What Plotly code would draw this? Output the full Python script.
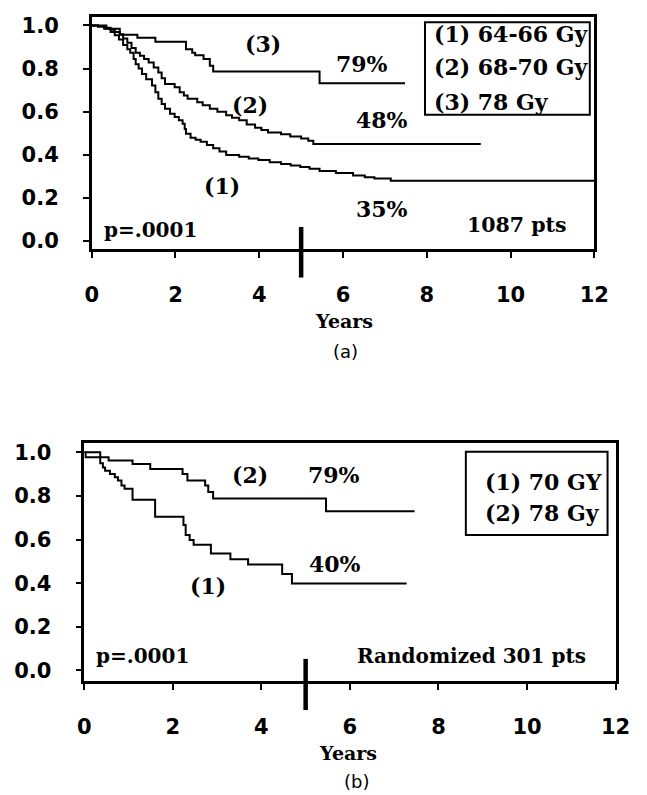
import plotly.graph_objects as go

# ---- Panel (a): all patients, three dose groups ----
a1_t = [0, 0.15, 0.3, 0.45, 0.55, 0.65, 0.75, 0.85, 0.92, 1.0, 1.05, 1.12, 1.2, 1.3, 1.44, 1.52,
        1.59, 1.67, 1.75, 1.87, 1.98, 2.08, 2.17, 2.22, 2.25, 2.36, 2.48, 2.6, 2.75, 2.9, 3.05,
        3.21, 3.52, 3.75, 3.98, 4.25, 4.52, 4.75, 4.98, 5.2, 5.44, 5.83, 6.24, 6.52, 6.75, 7.14]
a1_s = [1.0, 0.995, 0.985, 0.97, 0.955, 0.935, 0.91, 0.89, 0.874, 0.845, 0.82, 0.8, 0.775, 0.75,
        0.721, 0.69, 0.66, 0.635, 0.613, 0.59, 0.575, 0.56, 0.544, 0.52, 0.498, 0.479, 0.47,
        0.46, 0.445, 0.43, 0.415, 0.399, 0.391, 0.383, 0.376, 0.365, 0.357, 0.35, 0.343, 0.335,
        0.325, 0.315, 0.304, 0.296, 0.29, 0.279]
a1_end = 12.0

a2_t = [0, 0.15, 0.3, 0.45, 0.55, 0.67, 0.75, 0.85, 0.95, 1.05, 1.15, 1.25, 1.36, 1.48, 1.59,
        1.67, 1.75, 1.98, 2.1, 2.2, 2.29, 2.52, 2.65, 2.82, 3.0, 3.21, 3.35, 3.52, 3.7, 3.9,
        4.05, 4.21, 4.52, 4.74, 5.0, 5.17, 5.29]
a2_s = [1.0, 0.995, 0.99, 0.98, 0.97, 0.959, 0.94, 0.92, 0.895, 0.874, 0.86, 0.845, 0.828,
        0.805, 0.782, 0.755, 0.728, 0.713, 0.69, 0.675, 0.66, 0.644, 0.63, 0.613, 0.6, 0.583,
        0.572, 0.56, 0.54, 0.525, 0.515, 0.503, 0.495, 0.485, 0.475, 0.465, 0.45]
a2_end = 9.29

a3_t = [0, 0.35, 0.67, 1.09, 1.52, 2.25, 2.4, 2.47, 2.67, 2.82, 2.9, 5.44]
a3_s = [1.0, 0.985, 0.957, 0.943, 0.924, 0.89, 0.874, 0.862, 0.844, 0.813, 0.787, 0.732]
a3_end = 7.48

# ---- Panel (b): randomized trial, two arms ----
b1_t = [0, 0.36, 0.42, 0.47, 0.58, 0.69, 0.76, 0.84, 0.91, 1.09, 1.6, 2.24, 2.29, 2.38, 2.47,
        2.86, 3.3, 3.7, 4.47, 4.69]
b1_s = [1.0, 0.95, 0.93, 0.916, 0.901, 0.886, 0.871, 0.848, 0.833, 0.783, 0.705, 0.667,
        0.621, 0.598, 0.576, 0.536, 0.51, 0.485, 0.442, 0.398]
b1_end = 7.28

b2_t = [0, 0.03, 0.55, 1.09, 1.49, 2.22, 2.33, 2.73, 2.8, 2.91, 5.46]
b2_s = [1.0, 0.977, 0.962, 0.947, 0.924, 0.901, 0.871, 0.848, 0.818, 0.788, 0.73]
b2_end = 7.46

x_ticks = [0, 2, 4, 6, 8, 10, 12]
y_ticks = [0.0, 0.2, 0.4, 0.6, 0.8, 1.0]

legend_a = ["(1) 64-66 Gy", "(2) 68-70 Gy", "(3) 78 Gy"]
legend_b = ["(1) 70 GY", "(2) 78 Gy"]

W, H = 647, 795
SERIF = "DejaVu Serif"
SANS = "DejaVu Sans"


def px(x):
    return x / W


def py(y):
    return 1 - y / H


fig = go.Figure()


def km(t, s, end, xa, ya):
    fig.add_trace(go.Scatter(
        x=t + [end], y=s + [s[-1]], mode="lines", line_shape="hv",
        line=dict(color="black", width=2), xaxis=xa, yaxis=ya,
        showlegend=False, hoverinfo="skip"))


km(a1_t, a1_s, a1_end, "x", "y")
km(a2_t, a2_s, a2_end, "x", "y")
km(a3_t, a3_s, a3_end, "x", "y")
km(b1_t, b1_s, b1_end, "x2", "y2")
km(b2_t, b2_s, b2_end, "x2", "y2")

axis_common = dict(
    showline=True, linecolor="black", linewidth=2.5, mirror=True,
    ticks="outside", ticklen=6, tickwidth=2, tickcolor="black",
    showgrid=False, zeroline=False,
    tickfont=dict(family=SANS, size=21, color="black", weight="bold"),
)

fig.update_layout(
    width=W, height=H,
    margin=dict(l=0, r=0, t=0, b=0),
    paper_bgcolor="white", plot_bgcolor="white",
    xaxis=dict(domain=[px(87.7), px(608)], range=[0, 12], tickvals=x_ticks,
               anchor="y", ticklabelstandoff=19, **axis_common),
    yaxis=dict(domain=[py(248), py(14)], range=[-0.0368, 1.04], tickvals=y_ticks,
               tickformat=".1f", anchor="x", ticklabelstandoff=20, **axis_common),
    xaxis2=dict(domain=[px(80), px(630)], range=[0, 12], tickvals=x_ticks,
                anchor="y2", ticklabelstandoff=19, **axis_common),
    yaxis2=dict(domain=[py(684.3), py(444.3)], range=[-0.05, 1.041], tickvals=y_ticks,
                tickformat=".1f", anchor="x2", ticklabelstandoff=20, **axis_common),
)

# five-year marks crossing the time axis
fig.add_shape(type="line", xref="x", yref="paper", x0=5, x1=5, y0=py(277), y1=py(226),
              line=dict(color="black", width=4.5))
fig.add_shape(type="line", xref="x2", yref="paper", x0=5, x1=5, y0=py(713.3), y1=py(661.7),
              line=dict(color="black", width=4.5))

# legend boxes
fig.add_shape(type="rect", xref="paper", yref="paper", x0=px(432.7), x1=px(603.3),
              y0=py(112.7), y1=py(19.3), line=dict(color="black", width=2))
fig.add_shape(type="rect", xref="paper", yref="paper", x0=px(475), x1=px(621.7),
              y0=py(536.7), y1=py(452.7), line=dict(color="black", width=2))


def label(text, x, y, xref, yref, size=22, family=SERIF, weight="bold", xanchor="center"):
    fig.add_annotation(text=text, x=x, y=y, xref=xref, yref=yref, showarrow=False,
                       xanchor=xanchor, yanchor="middle",
                       font=dict(family=family, size=size, color="black", weight=weight))


# panel (a) labels
label("(3)", 4.09, 0.913, "x", "y")
label("79%", 6.46, 0.82, "x", "y")
label("(2)", 3.77, 0.63, "x", "y")
label("48%", 6.94, 0.561, "x", "y")
label("(1)", 3.11, 0.253, "x", "y")
label("35%", 6.92, 0.147, "x", "y")
label("p=.0001", 1.40, 0.05, "x", "y", size=20)
label("1087 pts", 10.16, 0.074, "x", "y", size=20.5)
for txt, yy in zip(legend_a, [31.7, 65, 100]):
    label(txt, px(440), py(yy), "paper", "paper", size=22, xanchor="left")
label("Years", px(349), py(321), "paper", "paper", size=19)
label("(a)", px(350), py(352), "paper", "paper", size=18, family=SANS, weight="normal")

# panel (b) labels
label("(2)", 3.75, 0.894, "x2", "y2")
label("79%", 5.64, 0.894, "x2", "y2")
label("40%", 5.66, 0.489, "x2", "y2")
label("(1)", 2.80, 0.386, "x2", "y2")
label("p=.0001", 1.31, 0.068, "x2", "y2", size=20)
label("Randomized 301 pts", 8.75, 0.068, "x2", "y2", size=20)
for txt, yy in zip(legend_b, [483.3, 515]):
    label(txt, px(493), py(yy), "paper", "paper", size=22, xanchor="left")
label("Years", px(353.5), py(757), "paper", "paper", size=19)
label("(b)", px(362), py(785), "paper", "paper", size=18, family=SANS, weight="normal")

fig.write_html("out.html")
